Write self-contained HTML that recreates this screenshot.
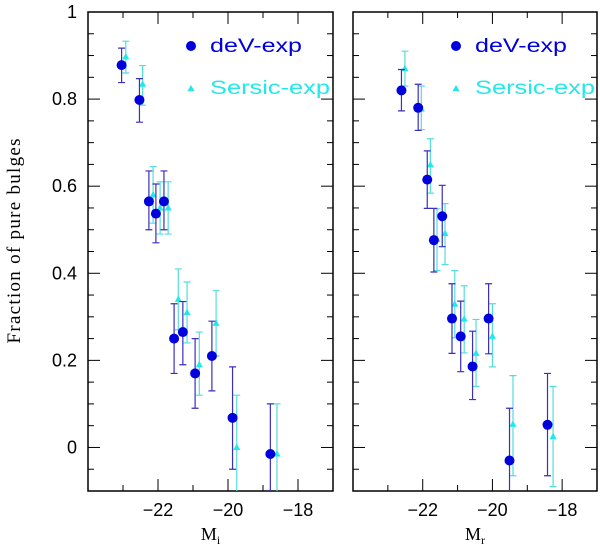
<!DOCTYPE html>
<html><head><meta charset="utf-8">
<style>
html,body{margin:0;padding:0;background:#fff;}
svg{display:block;font-family:"Liberation Sans",sans-serif;}
</style></head>
<body>
<svg id="chart" width="600" height="549" viewBox="0 0 600 549" xmlns="http://www.w3.org/2000/svg">
<text transform="translate(20,241) rotate(-90)" text-anchor="middle" font-family="Liberation Serif, serif" font-size="19" textLength="205" lengthAdjust="spacing">Fraction of pure bulges</text>
</svg>
<script>
// Left panel (M_i)
const leftDevX = [-23.04,-22.53,-22.26,-22.06,-21.83,-21.54,-21.29,-20.94,-20.46,-19.87,-18.79];
const leftDevY = [0.878,0.798,0.565,0.537,0.565,0.25,0.265,0.17,0.21,0.068,-0.015];
const leftDevLo = [0.838,0.747,0.50,0.47,0.50,0.17,0.19,0.09,0.13,-0.05,-0.13];
const leftDevHi = [0.917,0.847,0.635,0.605,0.635,0.33,0.335,0.25,0.29,0.185,0.10];
const leftSerX = [-22.92,-22.44,-22.14,-21.94,-21.71,-21.42,-21.17,-20.82,-20.34,-19.75,-18.6];
const leftSerY = [0.897,0.834,0.58,0.55,0.55,0.34,0.31,0.19,0.285,0.0,-0.015];
const leftSerLo = [0.86,0.786,0.515,0.49,0.49,0.27,0.24,0.12,0.21,-0.11,-0.13];
const leftSerHi = [0.933,0.877,0.645,0.61,0.61,0.41,0.38,0.265,0.36,0.12,0.10];
// Right panel (M_r)
const rightDevX = [-22.61,-22.13,-21.87,-21.68,-21.44,-21.16,-20.91,-20.57,-20.11,-19.51,-18.42];
const rightDevY = [0.82,0.78,0.615,0.476,0.531,0.296,0.255,0.186,0.296,-0.03,0.052];
const rightDevLo = [0.773,0.728,0.549,0.403,0.461,0.216,0.174,0.11,0.215,-0.15,-0.065];
const rightDevHi = [0.868,0.834,0.681,0.549,0.602,0.376,0.336,0.267,0.376,0.09,0.17];
const rightSerX = [-22.51,-22.04,-21.78,-21.59,-21.36,-21.08,-20.81,-20.47,-20.0,-19.41,-18.26];
const rightSerY = [0.87,0.777,0.649,0.478,0.491,0.329,0.295,0.216,0.255,0.053,0.025];
const rightSerLo = [0.83,0.73,0.584,0.406,0.42,0.252,0.217,0.14,0.185,-0.065,-0.09];
const rightSerHi = [0.91,0.83,0.709,0.548,0.56,0.406,0.371,0.294,0.33,0.165,0.14];
const xTickLabels = [-22,-20,-18];
const yTickLabels = ["0","0.2","0.4","0.6","0.8","1"];
const yTickValues = [0,0.2,0.4,0.6,0.8,1];
const legendLabels = ["deV-exp","Sersic-exp"];

const NS="http://www.w3.org/2000/svg";
const svg=document.getElementById('chart');
const X0=-24,X1=-17,Y0=-0.1,Y1=1,TOP=12,BOT=491;
function mk(tag,attrs,parent){const e=document.createElementNS(NS,tag);for(const k in attrs)e.setAttribute(k,attrs[k]);(parent||svg).appendChild(e);return e;}
function yS(v){return BOT-(v-Y0)/(Y1-Y0)*(BOT-TOP);}
const BLUE="#0000dd",BLUEERR="#3a2fbf",CYAN="#22e8e8",CYANERR="#55dddd";

function panel(name,L,R,devX,devY,devLo,devHi,serX,serY,serLo,serHi,sub,showY){
  const xS=v=>L+(v-X0)/(X1-X0)*(R-L);
  const g=mk('g',{});
  
  
  const clipId=name+'-clip';
  const cp=mk('clipPath',{id:clipId},g);mk('rect',{x:L,y:TOP,width:R-L,height:BOT-TOP},cp);
  for(let v=-23;v<=-18;v++){
    const maj=(v%2===0),len=maj?12:6,x=xS(v);
    const t1=mk('line',{x1:x,y1:BOT,x2:x,y2:BOT-len,stroke:'#000','stroke-width':1},g);
    
    
    const t2=mk('line',{x1:x,y1:TOP,x2:x,y2:TOP+len,stroke:'#000','stroke-width':1},g);
    
    
  }
  for(let i=-2;i<=20;i++){
    const v=i*0.05;if(v<Y0-1e-9||v>Y1+1e-9)continue;
    const maj=(i%4===0),len=maj?12:6,y=yS(v);
    const t1=mk('line',{x1:L,y1:y,x2:L+len,y2:y,stroke:'#000','stroke-width':1},g);
    
    
    const t2=mk('line',{x1:R,y1:y,x2:R-len,y2:y,stroke:'#000','stroke-width':1},g);
    
    
  }
  const fr=mk('rect',{x:L,y:TOP,width:R-L,height:BOT-TOP,fill:'none',stroke:'#000','stroke-width':1.5},g);
  
  
  xTickLabels.forEach(v=>{
    const t=mk('text',{x:xS(v),y:516,'text-anchor':'middle','font-size':18},g);
    
    
    t.textContent='\u2212'+Math.abs(v);
  });
  if(showY){
    yTickLabels.forEach((lab,i)=>{
      const t=mk('text',{x:77,y:yS(yTickValues[i])+6,'text-anchor':'end','font-size':18},g);
      
      
      t.textContent=lab;
    });
  }
  const xt=mk('text',{x:(L+R)/2,y:540,'text-anchor':'middle','font-family':'Liberation Serif, serif','font-size':18},g);
  
  
  xt.textContent='M';
  const ts=mk('tspan',{'font-size':12,dy:4},xt);ts.textContent=sub;
  const dg=mk('g',{'clip-path':'url(#'+clipId+')'},g);
  function series(xs,ys,lo,hi,col,ecol,kind){
    xs.forEach((xv,i)=>{
      const x=xS(xv);
      const eb=mk('path',{d:`M${x-3.5},${yS(hi[i])}H${x+3.5}M${x},${yS(hi[i])}V${yS(lo[i])}M${x-3.5},${yS(lo[i])}H${x+3.5}`,stroke:ecol,'stroke-width':1.2,fill:'none'},dg);
      
      
      const y=yS(ys[i]);
      let m;
      if(kind==='dot') m=mk('circle',{cx:x,cy:y,r:5,fill:col},dg);
      else m=mk('path',{d:`M${x},${y-4}L${x+3.5},${y+2.5}L${x-3.5},${y+2.5}Z`,fill:col},dg);
      
      
    });
  }
  series(serX,serY,serLo,serHi,CYAN,CYANERR,'tri');
  series(devX,devY,devLo,devHi,BLUE,BLUEERR,'dot');
  const off=L-88;
  const lg=mk('g',{},g);
  
  
  const d=mk('circle',{cx:191+off,cy:46,r:5,fill:BLUE},lg);
  
  
  const t1=mk('text',{x:210+off,y:52,'font-size':19,fill:BLUE,textLength:92,lengthAdjust:'spacingAndGlyphs'},lg);
  
  
  t1.textContent=legendLabels[0];
  const tr=mk('path',{d:`M${191+off},${85}L${194.5+off},${91}L${187.5+off},${91}Z`,fill:CYAN},lg);
  
  
  const t2=mk('text',{x:210+off,y:94,'font-size':19,fill:CYAN,textLength:120,lengthAdjust:'spacingAndGlyphs'},lg);
  
  
  t2.textContent=legendLabels[1];
}
panel('left-mi',88,333,leftDevX,leftDevY,leftDevLo,leftDevHi,leftSerX,leftSerY,leftSerLo,leftSerHi,'i',true);
panel('right-mr',353,597,rightDevX,rightDevY,rightDevLo,rightDevHi,rightSerX,rightSerY,rightSerLo,rightSerHi,'r',false);
</script>
</body></html>
